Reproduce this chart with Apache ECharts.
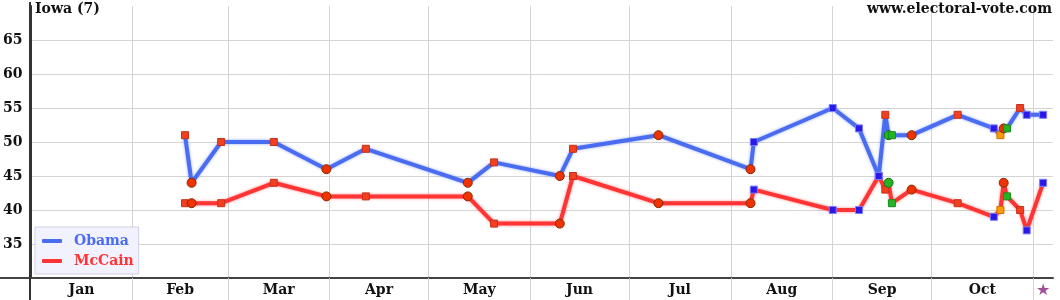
<!DOCTYPE html>
<html>
<head>
<meta charset="utf-8">
<script src="https://cdn.jsdelivr.net/npm/echarts@6/dist/echarts.min.js"></script>
<style>
html,body{margin:0;padding:0;background:#fff;}
#c{width:1060px;height:300px;}
</style>
</head>
<body>
<div id="c"></div>
<script>
// ---- data ----
const title = 'Iowa (7)';
const source = 'www.electoral-vote.com';
const pollDates = ['2008-02-17','2008-02-19','2008-02-28','2008-03-15','2008-03-31','2008-04-12','2008-05-13','2008-05-21','2008-06-10','2008-06-14','2008-07-10','2008-08-07','2008-08-08','2008-09-01','2008-09-09','2008-09-15','2008-09-17','2008-09-18','2008-09-19','2008-09-25','2008-10-09','2008-10-20','2008-10-22','2008-10-23','2008-10-24','2008-10-28','2008-10-30','2008-11-04'];
const obama  = [51,44,50,50,46,49,44,47,45,49,51,46,50,55,52,45,54,51,51,51,54,52,51,52,52,55,54,54];
const mccain = [41,41,41,44,42,42,42,38,38,45,41,41,43,40,40,45,43,44,41,43,41,39,40,44,42,40,37,44];
// marker kind per poll (pollster family): rs red square, rc red circle, bs blue square, gc green circle, gs green square, os orange square
const pollMarks = ['rs','rc','rs','rs','rc','rs','rc','rs','rc','rs','rc','rc','bs','bs','bs','bs','rs','gc','gs','rc','rs','bs','os','rc','gs','rs','bs','bs'];
const monthNames = ['Jan','Feb','Mar','Apr','May','Jun','Jul','Aug','Sep','Oct'];
const monthStarts = ['2008-01-01','2008-02-01','2008-03-01','2008-04-01','2008-05-01','2008-06-01','2008-07-01','2008-08-01','2008-09-01','2008-10-01','2008-11-01'];
const electionDay = '2008-11-04';
const axisStart = '2008-01-01';
const axisEnd = '2008-11-07';
const yTicks = [35,40,45,50,55,60,65];

// ---- helpers ----
function dayOf(s){
  const p = s.split('-').map(Number);
  return (Date.UTC(p[0],p[1]-1,p[2]) - Date.UTC(2008,0,1)) / 86400000;
}
const markStyles = {
  rs:{symbol:'rect',size:7,color:'#f04020',border:'#c83018'},
  rc:{symbol:'circle',size:9,color:'#ee3300',border:'#8a2a00'},
  bs:{symbol:'rect',size:7,color:'#2a18e6',border:'#7a7aff'},
  gc:{symbol:'circle',size:9,color:'#22b422',border:'#147014'},
  gs:{symbol:'rect',size:7,color:'#22b422',border:'#1a8a1a'},
  os:{symbol:'rect',size:7,color:'#ff9a00',border:'#cc7400'}
};
function buildData(vals){
  return vals.map((v,i)=>{
    const m = markStyles[pollMarks[i]];
    return {value:[dayOf(pollDates[i]), v], symbol:m.symbol, symbolSize:m.size,
      itemStyle:{color:m.color, borderColor:m.border, borderWidth:1}};
  });
}
const monthDays = monthStarts.map(dayOf);
const monthMids = monthNames.map((n,i)=> (monthDays[i]+monthDays[i+1])/2);
const starDay = dayOf(electionDay);
const labelVals = monthMids.concat([starDay]);

const FONT = 'DejaVu Serif';
const blue = '#4a6cf0', red = '#ff3535';

const chart = echarts.init(document.getElementById('c'), null, {renderer:'canvas'});
chart.setOption({
  animation:false,
  backgroundColor:'#fff',
  title:[
    {text:title, left:35, top:2, padding:0, textStyle:{fontFamily:FONT, fontWeight:'bold', fontSize:14, color:'#111'}},
    {text:source, right:8, top:2, padding:0, textStyle:{fontFamily:FONT, fontWeight:'bold', fontSize:14, color:'#111'}}
  ],
  legend:{
    orient:'vertical', left:35, top:227,
    padding:[7,5,6,7], itemGap:6,
    itemWidth:20, itemHeight:4, icon:'roundRect',
    backgroundColor:'#f2f2ff', borderColor:'#cfcfe0', borderWidth:1,
    textStyle:{fontFamily:FONT, fontWeight:'bold', fontSize:14, padding:[0,0,0,7]},
    data:[{name:'Obama', textStyle:{color:blue}},{name:'McCain', textStyle:{color:red}}]
  },
  grid:{left:30, right:7, top:6, bottom:22, containLabel:false},
  xAxis:{
    type:'value', min:dayOf(axisStart), max:dayOf(axisEnd),
    axisLine:{show:true, onZero:false, lineStyle:{color:'#444', width:2}},
    axisTick:{show:true, customValues:monthDays, length:22, lineStyle:{color:'#d4d4d4', width:1}},
    splitLine:{show:true, lineStyle:{color:'#d4d4d4', width:1}},
    axisLabel:{
      customValues:labelVals, margin:5,
      fontFamily:FONT, fontWeight:'bold', fontSize:14, color:'#111',
      formatter:function(v){
        if (Math.abs(v-starDay)<0.01) return '{star|★}';
        const i = monthMids.findIndex(m=>Math.abs(m-v)<0.01);
        return i>=0 ? monthNames[i] : '';
      },
      rich:{star:{color:'#9e4f98', fontSize:16, fontFamily:'DejaVu Sans'}}
    }
  },
  yAxis:{
    type:'value', min:30, max:70, interval:5,
    axisLine:{show:true, lineStyle:{color:'#333', width:2}},
    axisTick:{show:false},
    splitLine:{show:true, showMaxLine:false, lineStyle:{color:'#d4d4d4', width:1}},
    axisLabel:{
      customValues:yTicks, margin:8,
      fontFamily:FONT, fontWeight:'bold', fontSize:14, color:'#111'
    }
  },
  graphic:[
    {type:'line', shape:{x1:0,y1:278,x2:30,y2:278}, style:{stroke:'#444', lineWidth:2}, z:10},
    {type:'line', shape:{x1:30,y1:2,x2:30,y2:300}, style:{stroke:'#333', lineWidth:2}, z:10}
  ],
  series:[
    {name:'Obama', type:'line', data:buildData(obama), z:3,
      lineStyle:{color:blue, width:4, shadowColor:'rgba(74,108,240,0.6)', shadowBlur:3},
      itemStyle:{color:blue}},
    {name:'McCain', type:'line', data:buildData(mccain), z:3,
      lineStyle:{color:red, width:4, shadowColor:'rgba(255,53,53,0.6)', shadowBlur:3},
      itemStyle:{color:red}}
  ]
});
</script>
</body>
</html>
